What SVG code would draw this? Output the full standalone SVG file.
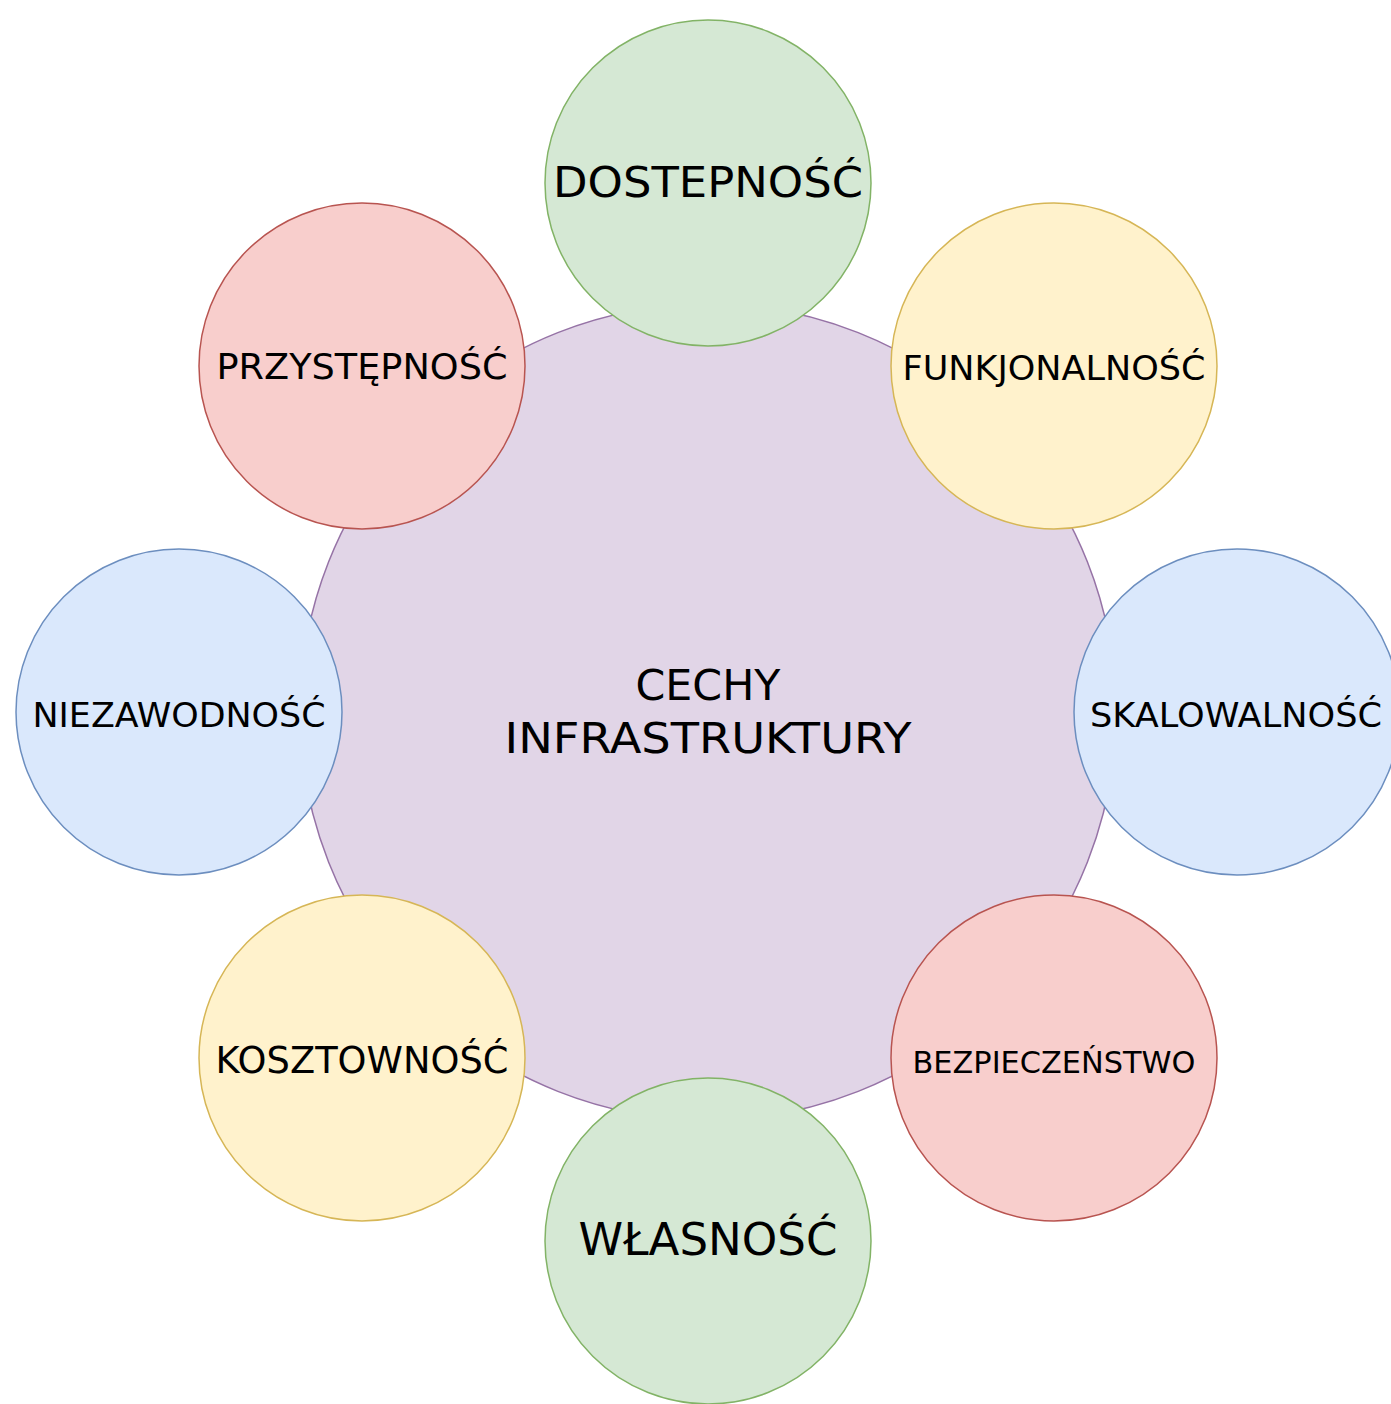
<svg xmlns="http://www.w3.org/2000/svg" width="1391" height="1404" viewBox="0 0 1391 1404">
<style>
circle{stroke-width:1.5}
.g{fill:#d5e8d4;stroke:#82b366}
.y{fill:#fff2cc;stroke:#d6b656}
.b{fill:#dae8fc;stroke:#6c8ebf}
.r{fill:#f8cecc;stroke:#b85450}
.p{fill:#e1d5e7;stroke:#9673a6}
text{font-family:"DejaVu Sans","Liberation Sans",sans-serif;fill:#000;text-anchor:middle}
</style>
<rect width="1391" height="1404" fill="#fff"/>
<g id="center"><circle class="p" cx="708" cy="712" r="408"/>
<text x="708" y="700" font-size="42" textLength="145" lengthAdjust="spacingAndGlyphs">CECHY</text>
<text x="708" y="753" font-size="42" textLength="407" lengthAdjust="spacingAndGlyphs">INFRASTRUKTURY</text></g>
<g id="dostepnosc"><circle class="g" cx="708" cy="183" r="163"/>
<text x="708" y="197" font-size="42" textLength="310" lengthAdjust="spacingAndGlyphs">DOSTEPNOŚĆ</text></g>
<g id="funkjonalnosc"><circle class="y" cx="1054" cy="366" r="163"/>
<text x="1054" y="380" font-size="34" textLength="303" lengthAdjust="spacingAndGlyphs">FUNKJONALNOŚĆ</text></g>
<g id="skalowalnosc"><circle class="b" cx="1237" cy="712" r="163"/>
<text x="1236" y="727" font-size="33" textLength="292" lengthAdjust="spacingAndGlyphs">SKALOWALNOŚĆ</text></g>
<g id="bezpieczenstwo"><circle class="r" cx="1054" cy="1058" r="163"/>
<text x="1054" y="1073" font-size="29.5" textLength="283" lengthAdjust="spacingAndGlyphs">BEZPIECZEŃSTWO</text></g>
<g id="wlasnosc"><circle class="g" cx="708" cy="1241" r="163"/>
<text x="708" y="1255" font-size="44" textLength="259" lengthAdjust="spacingAndGlyphs">WŁASNOŚĆ</text></g>
<g id="kosztownosc"><circle class="y" cx="362" cy="1058" r="163"/>
<text x="362" y="1073" font-size="37" textLength="293" lengthAdjust="spacingAndGlyphs">KOSZTOWNOŚĆ</text></g>
<g id="niezawodnosc"><circle class="b" cx="179" cy="712" r="163"/>
<text x="179" y="727" font-size="33" textLength="293" lengthAdjust="spacingAndGlyphs">NIEZAWODNOŚĆ</text></g>
<g id="przystepnosc"><circle class="r" cx="362" cy="366" r="163"/>
<text x="362" y="379" font-size="36" textLength="291" lengthAdjust="spacingAndGlyphs">PRZYSTĘPNOŚĆ</text></g>
<g id="connectors"/>
</svg>
